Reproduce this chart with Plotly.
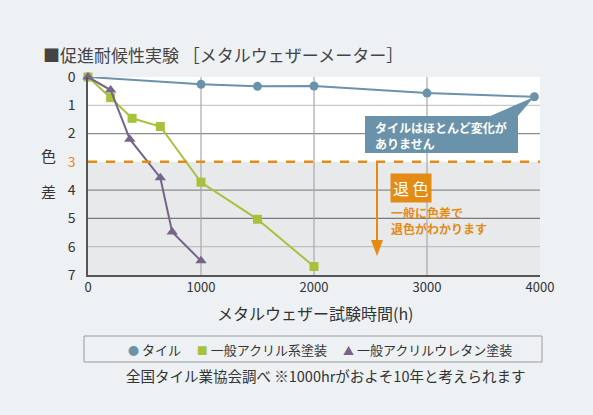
import plotly.graph_objects as go

FONT = "Noto Sans CJK JP"
INK = "#333333"
ORANGE = "#e38b14"
TILE_C = "#6a93ab"
ACRYL_C = "#a6c23b"
URETH_C = "#76648a"

# data
TILE_X = [0, 1000, 1500, 2000, 3000, 3950]
TILE_Y = [0, 0.26, 0.33, 0.32, 0.57, 0.7]
ACRYL_X = [0, 200, 390, 640, 1000, 1500, 2000]
ACRYL_Y = [0, 0.73, 1.46, 1.75, 3.72, 5.03, 6.7]
URETH_X = [0, 200, 370, 640, 745, 1000]
URETH_Y = [0, 0.46, 2.2, 3.56, 5.48, 6.5]
SERIES = ["タイル", "一般アクリル系塗装", "一般アクリルウレタン塗装"]
Y_TICKS = [0, 1, 2, 3, 4, 5, 6, 7]
X_TICKS = [0, 1000, 2000, 3000, 4000]
THRESHOLD = 3

W, H = 593, 415
L, R, T, B = 88, 540, 77, 275


def px(x):
    return (x - L) / (R - L)


def py(y):
    return (B - y) / (B - T)


fig = go.Figure()

specs = [
    (TILE_X, TILE_Y, TILE_C, "circle", 9),
    (ACRYL_X, ACRYL_Y, ACRYL_C, "square", 9),
    (URETH_X, URETH_Y, URETH_C, "triangle-up", 10),
]
for xs, ys, col, sym, size in specs:
    fig.add_trace(go.Scatter(
        x=xs, y=ys, mode="lines+markers", showlegend=False,
        line=dict(color=col, width=2),
        marker=dict(color=col, symbol=sym, size=size),
        cliponaxis=False,
    ))

shapes = [
    # grey lower zone
    dict(type="rect", xref="x", yref="y", x0=0, x1=4000, y0=THRESHOLD, y1=7,
         fillcolor="#e8e9eb", line=dict(width=0), layer="below"),
]
grid_cols = {1: "#c9c9c9", 2: "#8c8c8c", 4: "#8c8c8c", 5: "#7a7a7a", 6: "#c0c0c0"}
for lv, c in grid_cols.items():
    shapes.append(dict(type="line", xref="x", yref="y", x0=0, x1=4000, y0=lv, y1=lv,
                       line=dict(color=c, width=1.2), layer="below"))
for xv in X_TICKS[1:-1]:
    shapes.append(dict(type="line", xref="x", yref="y", x0=xv, x1=xv, y0=0, y1=7,
                       line=dict(color="#a8a8a8", width=1.2), layer="below"))
shapes.append(dict(type="line", xref="x", yref="y", x0=0, x1=4000, y0=THRESHOLD, y1=THRESHOLD,
                   line=dict(color=ORANGE, width=2.5, dash="dash")))
# tile callout box + pointer
shapes.append(dict(type="rect", xref="paper", yref="paper",
                   x0=px(365), x1=px(518), y0=py(153), y1=py(116),
                   fillcolor=TILE_C, line=dict(width=0)))
shapes.append(dict(type="path", xref="paper", yref="paper",
                   path=f"M {px(488)},{py(117)} L {px(534)},{py(97)} L {px(517)},{py(117)} Z",
                   fillcolor=TILE_C, line=dict(width=0)))
# orange arrow shaft + head
shapes.append(dict(type="line", xref="paper", yref="paper",
                   x0=px(377), x1=px(377), y0=py(162), y1=py(243),
                   line=dict(color=ORANGE, width=2)))
shapes.append(dict(type="path", xref="paper", yref="paper",
                   path=f"M {px(371)},{py(240)} L {px(383)},{py(240)} L {px(377)},{py(256)} Z",
                   fillcolor=ORANGE, line=dict(width=0)))
# legend frame
shapes.append(dict(type="rect", xref="paper", yref="paper",
                   x0=px(84), x1=px(542), y0=py(362), y1=py(336),
                   fillcolor="rgba(0,0,0,0)", line=dict(color="#9a9a9a", width=1)))

# legend as text with coloured symbols
sym_chars = ["●", "■", "▲"]
legend_txt = "　 ".join(
    f"<span style='color:{c};font-size:11px'>{s}</span> {n}"
    for s, c, n in zip(sym_chars, [TILE_C, ACRYL_C, URETH_C], SERIES)
)

ann = [
    dict(x=px(41), y=py(55), xanchor="left",
         text="■促進耐候性実験 ［メタルウェザーメーター］",
         font=dict(size=17, color="#444444")),
    dict(x=px(48), y=py(155), text="色", font=dict(size=15, color=INK)),
    dict(x=px(48), y=py(191), text="差", font=dict(size=15, color=INK)),
    dict(x=px(315), y=py(313), text="メタルウェザー試験時間(h)", font=dict(size=16, color=INK)),
    dict(x=px(373), y=py(135), xanchor="left", align="left",
         text="<b>タイルはほとんど変化が<br>ありません</b>",
         font=dict(size=12, color="white")),
    dict(x=px(390), y=py(188), xanchor="left",
         text="退 色", bgcolor=ORANGE, borderpad=2,
         font=dict(size=16, color="white")),
    dict(x=px(389), y=py(220), xanchor="left", align="left",
         text="<b>一般に色差で<br>退色がわかります</b>",
         font=dict(size=12, color=ORANGE)),
    dict(x=px(320), y=py(349), text=legend_txt, font=dict(size=13, color=INK)),
    dict(x=px(325), y=py(376), text="全国タイル業協会調べ ※1000hrがおよそ10年と考えられます",
         font=dict(size=14.5, color=INK)),
]
for a in ann:
    a.setdefault("showarrow", False)
    a.setdefault("xref", "paper")
    a.setdefault("yref", "paper")
    a.setdefault("xanchor", "center")
    a.setdefault("yanchor", "middle")

y_text = [f"<span style='color:{ORANGE}'>{v}</span>" if v == THRESHOLD else str(v) for v in Y_TICKS]

fig.update_layout(
    width=W, height=H,
    margin=dict(l=L, r=W - R, t=T, b=H - B, pad=0),
    paper_bgcolor="#eef1f4",
    plot_bgcolor="white",
    font=dict(family=FONT, color=INK),
    shapes=shapes,
    annotations=ann,
    showlegend=False,
    xaxis=dict(range=[0, 4000], tickvals=X_TICKS, showgrid=False, zeroline=False,
               showline=True, linecolor="#555555", linewidth=1.5,
               tickfont=dict(size=13, color=INK), ticks=""),
    yaxis=dict(range=[7, 0], tickvals=Y_TICKS, ticktext=y_text, showgrid=False, zeroline=False,
               showline=True, linecolor="#555555", linewidth=1.5,
               tickfont=dict(size=14, color=INK), ticks="", ticklabelstandoff=8),
)

fig.write_html("out.html", config={"displayModeBar": False},
               post_script="document.body.style.margin='0';")
